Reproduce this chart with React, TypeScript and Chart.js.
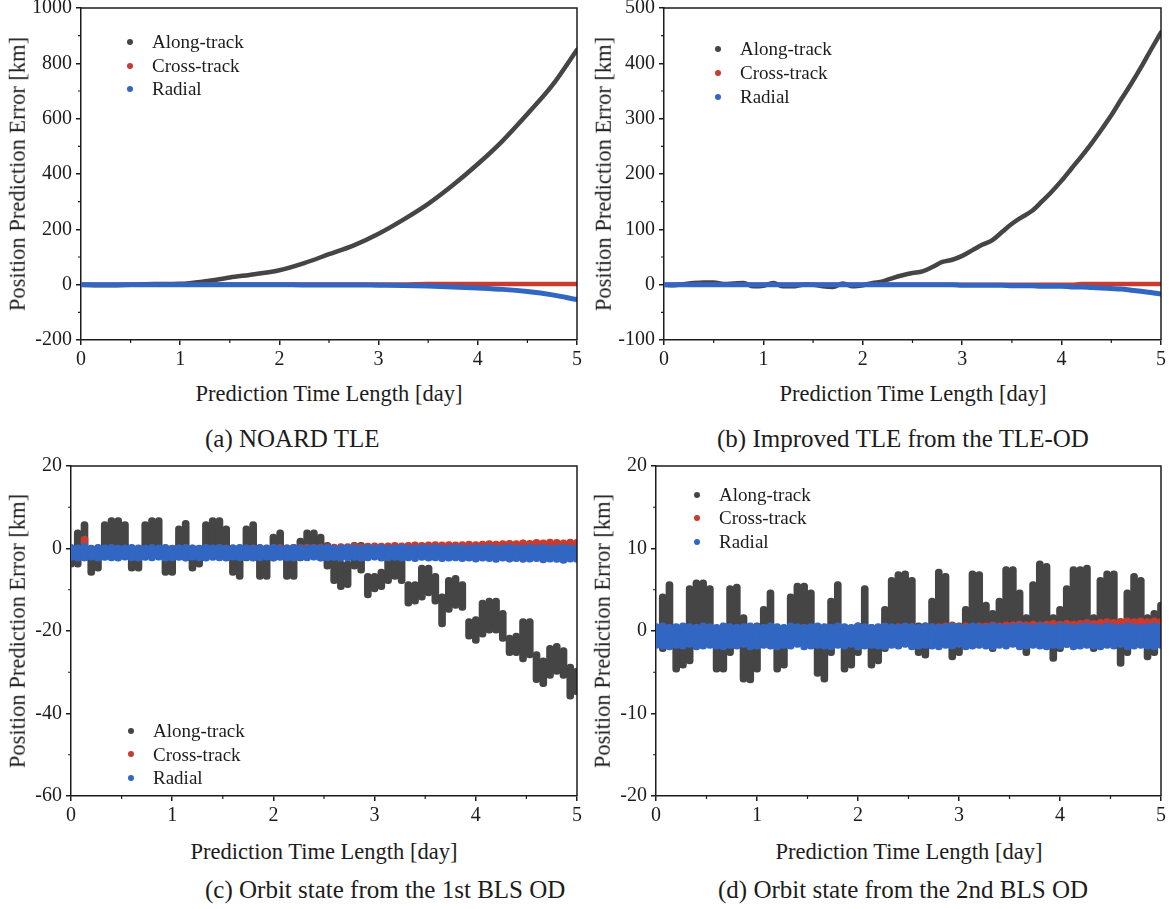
import React, { useEffect, useRef } from "react";
import { Chart, registerables } from "chart.js";

Chart.register(...registerables);

const FONT = "'Liberation Serif', 'Times New Roman', Times, serif";
const INK = "#1c1c1c";
const GRAY = "#454545";
const RED = "#c93a2f";
const BLUE = "#3167c2";

const SERIES_NAMES = ["Along-track", "Cross-track", "Radial"];
const SERIES_COLORS = [GRAY, RED, BLUE];
const X_MINOR = [0.5, 1.5, 2.5, 3.5, 4.5];
const ORBITS_PER_DAY = 15;

// ---------- (a) NOARD TLE ----------
const DAYS_A = [0, 0.25, 0.5, 0.75, 1, 1.25, 1.5, 1.75, 2, 2.25, 2.5, 2.75, 3, 3.25, 3.5, 3.75, 4, 4.25, 4.5, 4.75, 5];
const ALONG_A = [0, -2, 0, 2, 3, 12, 26, 38, 52, 78, 110, 142, 184, 235, 292, 360, 436, 520, 617, 720, 849];
const CROSS_A = [0, 0, 0, 0, 1, 1, 1, 1, 1, 1, 1, 1, 1, 1, 2, 2, 2, 2, 2, 2, 2];
const RADIAL_A = [0, 0, 0, 0, 0, 0, 0, 0, 0, -1, -1, -1, -2, -3, -5, -8, -12, -17, -25, -37, -54];
const Y_MINOR_A = [-100, 100, 300, 500, 700, 900];

// ---------- (b) Improved TLE ----------
const DAYS_B = [
  0, 0.1, 0.2, 0.3, 0.4, 0.5, 0.6, 0.7, 0.8, 0.9,
  1.0, 1.1, 1.2, 1.3, 1.4, 1.5, 1.6, 1.7, 1.8, 1.9,
  2.0, 2.1, 2.2, 2.3, 2.4, 2.5, 2.6, 2.7, 2.8, 2.9,
  3.0, 3.1, 3.2, 3.3, 3.4, 3.5, 3.6, 3.7, 3.8, 3.9,
  4.0, 4.1, 4.2, 4.3, 4.4, 4.5, 4.6, 4.7, 4.8, 4.9,
  5.0,
];
const ALONG_B = [
  0, -1, 1, 3, 4, 4, 1, 2, 3, -3,
  -2, 3, -3, -3, 0, 0, -3, -4, 2, -3,
  -1, 3, 6, 12, 17, 21, 24, 32, 41, 45,
  52, 62, 72, 80, 95, 110, 122, 133, 150, 168,
  188, 210, 232, 255, 280, 306, 335, 363, 393, 425,
  456,
];
const CROSS_B = [
  0, 0, 0, 0, 0, 0, 0, 0, 0, 0,
  0, 0, 0, 0, 0, 0, 0, 0, 0, 0,
  0, 0, 0, 0, 0, 0, 0, 0, 0, 0,
  0, 0, 0, 0, 0, 0, 0, 0, 0, 0,
  0, 0, 1, 1, 1, 1, 1, 1, 1, 1,
  1,
];
const RADIAL_B = [
  0, 0, 0, 0, 0, 0, 0, 0, 0, 0,
  0, 0, 0, 0, 0, 0, 0, 0, 0, 0,
  0, 0, 0, 0, 0, 0, 0, 0, 0, 0,
  -1, -1, -1, -1, -1, -2, -2, -2, -3, -3,
  -3, -4, -4, -5, -6, -7, -8, -10, -12, -14,
  -17,
];
const Y_MINOR_B = [-50, 50, 150, 250, 350, 450];

// ---------- (c) 1st BLS OD (per-orbit upper / lower envelopes) ----------
const ALONG_C_HI = [
  0, 4.5, 6.5, 0, 0, 6.5, 7.5, 7.5, 6.5, 0,
  0, 6.5, 7.5, 7.5, 0, 0, 5.5, 6.8, 0, 0,
  6.5, 7.5, 7.5, 5.5, 0, 0, 5.5, 6.5, 0, -1,
  3.5, 4.5, -1, -1, 2.5, 4.5, 4.5, 3.5, 1.5, -2,
  -3, -3, 1.5, 1.5, -6, -6, -5, -1, -0.5, -2,
  -8, -8, -4, -4, -6, -11, -7, -6.5, -8, -17,
  -16.5, -12.5, -12, -12, -15, -21, -20.5, -17, -17, -25,
  -26.5, -23.5, -23, -24, -28, -29,
];
const ALONG_C_LO = [
  -4.5, -4.5, -3, -6.5, -5.5, -2, -1, -1, -2, -5.5,
  -5.5, -2, -1, -2, -6.5, -6.5, -2, -3, -5.5, -4.5,
  -1, -1, -1, -2, -6.5, -7.5, -3, -2, -7.5, -7.5,
  -3, -2, -7.5, -7.5, -3, -2, -2, -3, -5, -8.5,
  -10, -9.5, -5, -6, -12, -10.5, -10, -8.5, -7.5, -8.5,
  -14, -13.5, -12.5, -11.5, -13.5, -19, -15.5, -14.5, -15, -22,
  -23, -21.5, -20.5, -20.5, -22.5, -26, -26, -27.5, -26.5, -32.5,
  -33.5, -31.5, -30.5, -31.5, -36.5, -35.5,
];
const CROSS_C_HI = [
  0.6, 0.7, 3.0, 0.6, 0.7, 0.6, 0.7, 0.6, 0.7, 0.6,
  0.7, 0.6, 0.7, 0.6, 0.7, 0.7, 0.8, 0.7, 0.8, 0.7,
  0.8, 0.7, 0.8, 0.8, 0.9, 0.8, 0.9, 0.8, 0.9, 0.8,
  0.9, 1.0, 0.9, 1.0, 1.0, 1.1, 1.0, 1.1, 1.2, 1.1,
  1.2, 1.2, 1.3, 1.2, 1.3, 1.4, 1.3, 1.4, 1.5, 1.4,
  1.5, 1.6, 1.5, 1.6, 1.7, 1.6, 1.7, 1.6, 1.7, 1.8,
  1.7, 1.8, 1.9, 1.8, 1.9, 2.0, 1.9, 2.1, 2.0, 2.2,
  2.1, 2.3, 2.2, 2.1, 2.3, 2.2,
];
const CROSS_C_LO = [
  -0.8, -0.9, -0.8, -0.7, -0.8, -0.9, -0.8, -0.7, -0.8, -0.9,
  -0.8, -0.7, -0.8, -0.9, -0.8, -0.7, -0.8, -0.9, -0.8, -0.7,
  -0.8, -0.9, -0.8, -0.7, -0.8, -0.9, -0.8, -0.7, -0.8, -0.9,
  -0.8, -0.7, -0.8, -0.9, -0.8, -0.7, -0.8, -0.9, -0.8, -0.7,
  -0.8, -0.9, -0.8, -0.7, -0.8, -0.9, -0.8, -0.7, -0.8, -0.9,
  -0.8, -0.7, -0.8, -0.9, -0.8, -0.7, -0.8, -0.9, -0.8, -0.7,
  -0.8, -0.9, -0.8, -0.7, -0.8, -0.9, -0.8, -0.7, -0.8, -0.9,
  -0.8, -0.7, -0.8, -0.9, -0.8, -0.7,
];
const RADIAL_C_HI = [
  1.0, 0.9, 1.3, 0.8, 1.0, 0.9, 1.0, 0.8, 0.9, 1.0,
  0.9, 0.8, 1.0, 0.9, 1.0, 0.8, 0.9, 1.0, 0.9, 0.8,
  1.0, 0.9, 1.0, 0.8, 0.9, 1.0, 0.9, 0.8, 1.0, 0.9,
  1.0, 0.8, 0.9, 1.0, 0.9, 0.8, 1.0, 0.9, 1.0, 0.8,
  0.9, 1.0, 0.9, 0.8, 1.0, 0.9, 1.0, 0.8, 0.9, 1.0,
  0.9, 0.8, 1.0, 0.9, 1.0, 0.8, 0.9, 1.0, 0.9, 0.8,
  1.0, 0.9, 1.0, 0.8, 0.9, 1.0, 0.9, 0.8, 1.0, 0.9,
  1.0, 0.8, 0.9, 1.0, 0.9, 0.8,
];
const RADIAL_C_LO = [
  -2.9, -3.1, -3.0, -2.8, -3.1, -2.9, -3.0, -3.1, -2.8, -3.0,
  -3.1, -2.9, -3.0, -2.8, -3.1, -3.0, -2.9, -3.1, -2.8, -3.0,
  -3.1, -2.9, -3.0, -3.1, -2.8, -3.0, -2.9, -3.1, -3.0, -2.8,
  -3.1, -2.9, -3.0, -3.1, -2.9, -3.0, -2.8, -3.1, -3.0, -2.9,
  -3.1, -3.0, -2.9, -3.1, -3.0, -2.8, -3.1, -3.0, -2.9, -3.1,
  -3.0, -3.2, -2.9, -3.1, -3.0, -3.2, -3.1, -3.0, -3.2, -3.1,
  -3.3, -3.1, -3.2, -3.4, -3.1, -3.3, -3.2, -3.4, -3.3, -3.2,
  -3.5, -3.3, -3.4, -3.6, -3.3, -3.4,
];
const Y_MINOR_C = [-50, -30, -10, 10];

// ---------- (d) 2nd BLS OD (per-orbit upper / lower envelopes) ----------
const ALONG_D_HI = [
  0, 4.5, 6, 0, 0, 5.5, 6.2, 6.2, 5.5, 0,
  0.5, 5.5, 5.7, 2, 0, 1, 3, 5, 0, 0,
  4.5, 5.8, 5.8, 5, 0, 0, 4, 6, 0, 0,
  1, 5.5, 0, 0, 3, 6.5, 7.2, 7.3, 6.5, 1,
  1, 4, 7.5, 7, 1, 1, 3, 7.3, 7.2, 3.5,
  2.5, 4, 7.8, 7.8, 5, 2, 6, 8.5, 8.2, 2,
  3, 5.5, 7.8, 7.8, 8, 2, 6.5, 7.3, 7.3, 1.5,
  5, 7, 6.5, 2, 2.5, 3.5,
];
const ALONG_D_LO = [
  -2, -2.5, -1, -5, -4.5, -4, -1.5, -1.5, -2, -5,
  -5, -3, -1.5, -6.2, -6.3, -5, -2, -2, -5, -4.5,
  -2, -1.5, -1.5, -2, -5.5, -6.2, -3, -2, -5, -4.5,
  -3, -1.5, -4.5, -4, -2.5, -1, -1, -1, -1, -3,
  -3.3, -2, -1, -1, -3.5, -3, -2, -1, -1, -2,
  -2.5, -1.5, -1, -1, -1.5, -3, -2, -1, -1, -3.7,
  -2.5, -2, -1, -1, -1, -2.5, -1.5, -1, -1, -4.3,
  -3, -1, -1.5, -3.5, -3, -2,
];
const CROSS_D_HI = [
  0.8, 0.7, 0.8, 0.7, 0.8, 0.7, 0.8, 0.7, 0.8, 0.7,
  0.8, 0.7, 0.8, 0.7, 0.8, 0.7, 0.8, 0.7, 0.8, 0.7,
  0.8, 0.7, 0.8, 0.7, 0.8, 0.7, 0.8, 0.7, 0.8, 0.7,
  0.8, 0.7, 0.8, 0.8, 0.9, 0.8, 0.9, 0.8, 0.9, 0.8,
  0.9, 0.9, 0.9, 1.0, 1.1, 0.9, 1.0, 0.9, 1.0, 1.0,
  1.1, 1.0, 1.1, 1.1, 1.2, 1.1, 1.2, 1.1, 1.2, 1.3,
  1.2, 1.3, 1.2, 1.3, 1.4, 1.3, 1.4, 1.5, 1.4, 1.5,
  1.6, 1.5, 1.6, 1.5, 1.6, 1.5,
];
const CROSS_D_LO = [
  -0.3, -0.4, -0.3, -0.2, -0.3, -0.4, -0.3, -0.2, -0.3, -0.4,
  -0.3, -0.2, -0.3, -0.4, -0.3, -0.2, -0.3, -0.4, -0.3, -0.2,
  -0.3, -0.4, -0.3, -0.2, -0.3, -0.4, -0.3, -0.2, -0.3, -0.4,
  -0.3, -0.2, -0.3, -0.4, -0.3, -0.2, -0.3, -0.4, -0.3, -0.2,
  -0.3, -0.4, -0.3, -0.2, -0.3, -0.4, -0.3, -0.2, -0.3, -0.4,
  -0.3, -0.2, -0.3, -0.4, -0.3, -0.2, -0.3, -0.4, -0.3, -0.2,
  -0.3, -0.4, -0.3, -0.2, -0.3, -0.4, -0.3, -0.2, -0.3, -0.4,
  -0.3, -0.2, -0.3, -0.4, -0.3, -0.2,
];
const RADIAL_D_HI = [
  0.9, 1.0, 0.8, 0.9, 1.0, 0.9, 0.8, 1.0, 0.9, 0.8,
  1.0, 0.9, 0.8, 0.9, 1.0, 0.9, 0.8, 1.0, 0.9, 0.8,
  1.0, 0.9, 0.8, 0.9, 1.0, 0.9, 0.8, 1.0, 0.9, 0.8,
  1.0, 0.9, 0.8, 0.9, 1.0, 0.9, 0.8, 1.0, 0.9, 0.8,
  1.0, 0.9, 0.8, 0.9, 1.0, 0.9, 0.8, 1.0, 0.9, 0.8,
  1.0, 0.9, 0.8, 0.9, 1.0, 0.9, 0.8, 1.0, 0.9, 0.8,
  1.0, 0.9, 0.8, 0.9, 1.0, 0.9, 0.8, 1.0, 0.9, 0.8,
  1.0, 0.9, 0.8, 0.9, 1.0, 0.9,
];
const RADIAL_D_LO = [
  -2.1, -2.2, -2.3, -2.1, -2.2, -2.0, -2.3, -2.2, -2.1, -2.2,
  -2.3, -2.1, -2.2, -2.0, -2.3, -2.2, -2.1, -2.2, -2.3, -2.1,
  -2.2, -2.0, -2.3, -2.2, -2.1, -2.2, -2.3, -2.1, -2.2, -2.0,
  -2.3, -2.2, -2.1, -2.2, -2.3, -2.1, -2.2, -2.0, -2.3, -2.2,
  -2.1, -2.2, -2.3, -2.1, -2.2, -2.0, -2.3, -2.2, -2.1, -2.2,
  -2.3, -2.1, -2.2, -2.0, -2.3, -2.2, -2.1, -2.2, -2.3, -2.1,
  -2.2, -2.0, -2.3, -2.2, -2.1, -2.2, -2.3, -2.1, -2.2, -2.0,
  -2.3, -2.2, -2.1, -2.2, -2.3, -2.1,
];
const Y_MINOR_D = [-15, -5, 5, 15];

// ---------- helpers ----------
type Pt = { x: number; y: number };
type Band = { x: number; y: [number, number] };

function curve(xs: number[], ys: number[]): Pt[] {
  return xs.map((x, i) => ({ x, y: ys[i] }));
}

function bands(hi: number[], lo: number[]): Band[] {
  return hi.map((h, i) => ({ x: i / ORBITS_PER_DAY, y: [lo[i], h] as [number, number] }));
}

function lineSeries(idx: number, data: Pt[], width: number) {
  return {
    type: "line",
    label: SERIES_NAMES[idx],
    data,
    borderColor: SERIES_COLORS[idx],
    backgroundColor: SERIES_COLORS[idx],
    borderWidth: width,
    pointRadius: 0,
    fill: false,
    order: 3 - idx,
    cubicInterpolationMode: "monotone",
    borderCapStyle: "round",
    borderJoinStyle: "round",
    clip: 0,
  };
}

function bandSeries(idx: number, data: Band[]) {
  return {
    type: "bar",
    label: SERIES_NAMES[idx],
    data,
    backgroundColor: SERIES_COLORS[idx],
    borderWidth: 0,
    barThickness: 7,
    borderRadius: 3.5,
    borderSkipped: false,
    grouped: false,
    order: 3 - idx,
  };
}

type PanelSpec = {
  key: string;
  canvas: { left: number; top: number; width: number; height: number };
  yWidth: number;
  xHeight: number;
  padTop: number;
  padRight: number;
  yMin: number;
  yMax: number;
  yStep: number;
  yMinor: number[];
  datasets: any[];
  legend: { dotX: number; textX: number; rows: number[] };
  yTitle: { x: number; y: number };
  xTitle: { x: number; top: number };
  caption: { text: string; left: number; top: number };
};

const PANELS: PanelSpec[] = [
  {
    key: "a",
    canvas: { left: 0, top: -12, width: 590, height: 392 },
    yWidth: 81, xHeight: 40, padTop: 20, padRight: 13,
    yMin: -200, yMax: 1000, yStep: 200, yMinor: Y_MINOR_A,
    datasets: [
      lineSeries(0, curve(DAYS_A, ALONG_A), 4.5),
      lineSeries(1, curve(DAYS_A, CROSS_A), 4.5),
      lineSeries(2, curve(DAYS_A, RADIAL_A), 5),
    ],
    legend: { dotX: 130, textX: 152, rows: [42.3, 65.7, 89.3] },
    yTitle: { x: 17.5, y: 174 },
    xTitle: { x: 329, top: 383.3 },
    caption: { text: "(a) NOARD TLE", left: 205, top: 425.5 },
  },
  {
    key: "b",
    canvas: { left: 590, top: -12, width: 579, height: 392 },
    yWidth: 74, xHeight: 40, padTop: 20, padRight: 7,
    yMin: -100, yMax: 500, yStep: 100, yMinor: Y_MINOR_B,
    datasets: [
      lineSeries(0, curve(DAYS_B, ALONG_B), 4.5),
      lineSeries(1, curve(DAYS_B, CROSS_B), 4.5),
      lineSeries(2, curve(DAYS_B, RADIAL_B), 5),
    ],
    legend: { dotX: 718, textX: 740, rows: [49, 73, 97] },
    yTitle: { x: 604, y: 174 },
    xTitle: { x: 913, top: 383.3 },
    caption: { text: "(b) Improved TLE from the TLE-OD", left: 717, top: 425.5 },
  },
  {
    key: "c",
    canvas: { left: 0, top: 446, width: 590, height: 390 },
    yWidth: 71, xHeight: 40, padTop: 20, padRight: 13,
    yMin: -60, yMax: 20, yStep: 20, yMinor: Y_MINOR_C,
    datasets: [
      bandSeries(0, bands(ALONG_C_HI, ALONG_C_LO)),
      bandSeries(1, bands(CROSS_C_HI, CROSS_C_LO)),
      bandSeries(2, bands(RADIAL_C_HI, RADIAL_C_LO)),
    ],
    legend: { dotX: 131, textX: 153, rows: [731, 754.4, 778] },
    yTitle: { x: 18, y: 631 },
    xTitle: { x: 324, top: 841.3 },
    caption: { text: "(c) Orbit state from the 1st BLS OD", left: 205, top: 876.5 },
  },
  {
    key: "d",
    canvas: { left: 590, top: 446, width: 579, height: 390 },
    yWidth: 66, xHeight: 40, padTop: 20, padRight: 7,
    yMin: -20, yMax: 20, yStep: 10, yMinor: Y_MINOR_D,
    datasets: [
      bandSeries(0, bands(ALONG_D_HI, ALONG_D_LO)),
      bandSeries(1, bands(CROSS_D_HI, CROSS_D_LO)),
      bandSeries(2, bands(RADIAL_D_HI, RADIAL_D_LO)),
    ],
    legend: { dotX: 697, textX: 719, rows: [495, 518.3, 541.7] },
    yTitle: { x: 603, y: 631 },
    xTitle: { x: 909, top: 841.3 },
    caption: { text: "(d) Orbit state from the 2nd BLS OD", left: 718, top: 876.5 },
  },
];

function framePlugin(yMinor: number[]) {
  return {
    id: "frame",
    afterDraw(chart: any) {
      const { ctx, chartArea, scales } = chart;
      const { left, right, top, bottom } = chartArea;
      ctx.save();
      ctx.strokeStyle = INK;
      ctx.lineWidth = 1.5;
      ctx.beginPath();
      ctx.moveTo(left, top);
      ctx.lineTo(right, top);
      ctx.lineTo(right, bottom);
      ctx.stroke();
      ctx.lineWidth = 1.2;
      ctx.beginPath();
      X_MINOR.forEach((v) => {
        const px = scales.x.getPixelForValue(v);
        ctx.moveTo(px, bottom);
        ctx.lineTo(px, bottom + 3);
      });
      yMinor.forEach((v) => {
        const py = scales.y.getPixelForValue(v);
        ctx.moveTo(left, py);
        ctx.lineTo(left - 3, py);
      });
      ctx.stroke();
      ctx.restore();
    },
  };
}

function buildConfig(p: PanelSpec): any {
  const tickFont = { family: FONT, size: 20 };
  const grid = { drawOnChartArea: false, drawTicks: true, tickLength: 5, color: INK, lineWidth: 1.5, offset: false };
  const border = { display: true, color: INK, width: 1.5 };
  return {
    type: "line",
    data: { datasets: p.datasets },
    options: {
      responsive: false,
      maintainAspectRatio: false,
      animation: false,
      events: [],
      layout: { padding: { top: p.padTop, right: p.padRight, bottom: 0, left: 0 } },
      plugins: { legend: { display: false }, tooltip: { enabled: false } },
      scales: {
        x: {
          type: "linear",
          min: 0,
          max: 5,
          offset: false,
          afterFit: (s: any) => { s.height = p.xHeight; },
          ticks: { stepSize: 1, font: tickFont, color: INK, padding: 3, maxRotation: 0, autoSkip: false, callback: (v: any) => String(v) },
          grid,
          border,
        },
        y: {
          type: "linear",
          min: p.yMin,
          max: p.yMax,
          beginAtZero: false,
          afterFit: (s: any) => { s.width = p.yWidth; },
          ticks: { stepSize: p.yStep, font: tickFont, color: INK, padding: 4, autoSkip: false, callback: (v: any) => String(v) },
          grid,
          border,
        },
      },
    },
    plugins: [framePlugin(p.yMinor)],
  };
}

function Panel({ p }: { p: PanelSpec }) {
  const ref = useRef<HTMLCanvasElement | null>(null);
  useEffect(() => {
    if (!ref.current) return;
    const chart = new Chart(ref.current, buildConfig(p));
    return () => chart.destroy();
  }, [p]);
  return (
    <>
      <canvas
        ref={ref}
        width={p.canvas.width}
        height={p.canvas.height}
        style={{ position: "absolute", left: p.canvas.left, top: p.canvas.top, width: p.canvas.width, height: p.canvas.height }}
      />
      <div
        style={{
          position: "absolute", left: p.yTitle.x, top: p.yTitle.y,
          transform: "translate(-50%, -50%) rotate(-90deg)",
          whiteSpace: "nowrap", fontSize: 22.5, lineHeight: 1,
        }}
      >
        Position Prediction Error [km]
      </div>
      <div
        style={{
          position: "absolute", left: p.xTitle.x, top: p.xTitle.top,
          transform: "translateX(-50%)", whiteSpace: "nowrap", fontSize: 22.5, lineHeight: 1,
        }}
      >
        Prediction Time Length [day]
      </div>
      <div
        style={{
          position: "absolute", left: p.caption.left, top: p.caption.top,
          whiteSpace: "nowrap", fontSize: 25, lineHeight: 1,
        }}
      >
        {p.caption.text}
      </div>
      {SERIES_NAMES.map((name, i) => (
        <React.Fragment key={name}>
          <div
            style={{
              position: "absolute", left: p.legend.dotX - 3, top: p.legend.rows[i] - 3,
              width: 6, height: 6, borderRadius: "50%", background: SERIES_COLORS[i],
            }}
          />
          <div
            style={{
              position: "absolute", left: p.legend.textX, top: p.legend.rows[i] - 9.9,
              whiteSpace: "nowrap", fontSize: 19, lineHeight: 1,
            }}
          >
            {name}
          </div>
        </React.Fragment>
      ))}
    </>
  );
}

export default function App() {
  return (
    <div
      style={{
        position: "absolute", left: 0, top: 0, width: 1169, height: 909,
        background: "#ffffff", fontFamily: FONT, color: INK, overflow: "hidden",
      }}
    >
      {PANELS.map((p) => (
        <Panel key={p.key} p={p} />
      ))}
    </div>
  );
}
